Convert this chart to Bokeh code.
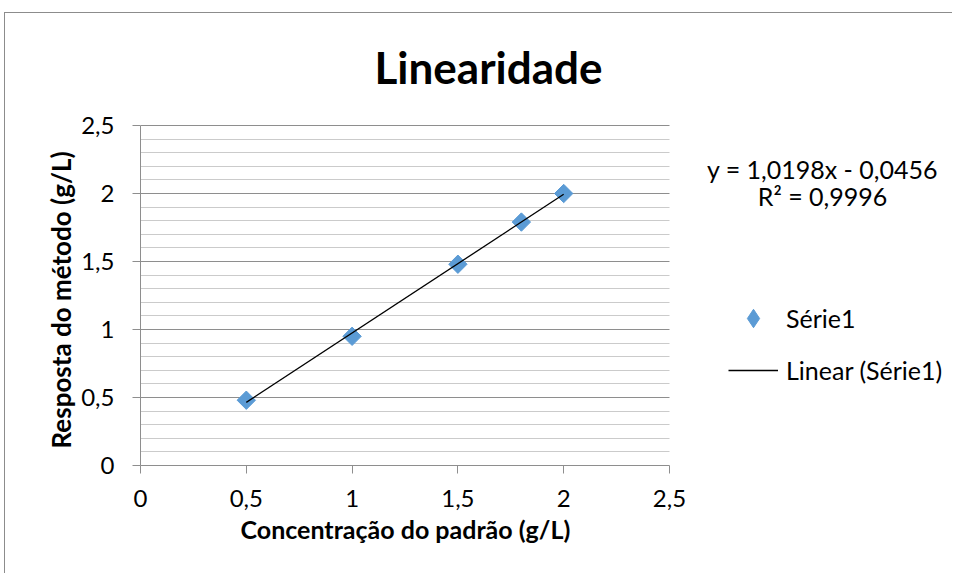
import numpy as np
from bokeh.plotting import figure
from bokeh.models import (FixedTicker, Legend, LegendItem, Label, Title,
                          ColumnDataSource, Range1d)
from bokeh.embed import file_html
from bokeh.resources import INLINE

# ---- data ----
x_conc = [0.5, 1.0, 1.5, 1.8, 2.0]
y_resp = [0.48, 0.95, 1.48, 1.79, 2.00]

trend_slope = 1.0198
trend_intercept = -0.0456
trend_r2 = 0.9996

x_tick_values = [0, 0.5, 1.0, 1.5, 2.0, 2.5]
x_tick_labels = ["0", "0,5", "1", "1,5", "2", "2,5"]
y_tick_values = [0, 0.5, 1.0, 1.5, 2.0, 2.5]
y_tick_labels = ["0", "0,5", "1", "1,5", "2", "2,5"]
y_minor_ticks = [round(i * 0.1, 1) for i in range(26) if i % 5 != 0]

title_text = "Linearidade"
x_title = "Concentração do padrão (g/L)"
y_title = "Resposta do método (g/L)"
series_name = "Série1"
trend_name = "Linear (Série1)"

FONT = "Lato"
BLUE = "#5B9BD5"
MAJOR = "#8E8E8E"
MINOR = "#CBCBCB"

# ---- layout (pixels) ----
AXIS_MAX = 2.5
PLOT_W, PLOT_H = 529, 340          # visible plot area
FRAME_W, FRAME_H = 812, 452        # frame also holds title / legend area
x_end = AXIS_MAX * FRAME_W / PLOT_W
y_end = AXIS_MAX * FRAME_H / PLOT_H

p = figure(frame_width=FRAME_W, frame_height=FRAME_H,
           x_range=(0, x_end), y_range=(0, y_end),
           min_border_left=135, min_border_top=0,
           min_border_right=0, min_border_bottom=108,
           output_backend="svg", toolbar_location=None)
p.outline_line_color = None
p.background_fill_color = "white"
p.border_fill_color = "white"
p.styles = {"border-left": "1px solid #8C8C8C", "border-top": "1px solid #8C8C8C",
            "margin-left": "4px", "margin-top": "12px"}
# range used only by the legend key renderer (keeps it out of view)
p.extra_y_ranges = {"legend_key": Range1d(start=100, end=200)}

# axes
xt = FixedTicker(ticks=x_tick_values)
yt = FixedTicker(ticks=y_tick_values, minor_ticks=y_minor_ticks)
p.xaxis.ticker = xt
p.yaxis.ticker = yt
p.xaxis.bounds = (0, AXIS_MAX)
p.yaxis.bounds = (0, AXIS_MAX)
p.xaxis.major_label_overrides = {v: l for v, l in zip(x_tick_values, x_tick_labels)}
p.yaxis.major_label_overrides = {v: l for v, l in zip(y_tick_values, y_tick_labels)}

for ax in (p.xaxis[0], p.yaxis[0]):
    ax.axis_line_color = MAJOR
    ax.major_tick_line_color = MAJOR
    ax.major_tick_out = 8
    ax.major_tick_in = 0
    ax.minor_tick_line_color = None
    ax.major_label_text_font = FONT
    ax.major_label_text_font_size = "24px"
    ax.major_label_text_color = "black"

p.xaxis.major_label_standoff = 16
p.yaxis.major_label_standoff = 18

# axis titles, centred on the visible plot area
p.add_layout(Title(text=y_title, align="left", offset=17, standoff=4,
                   text_font=FONT, text_font_size="26px", text_font_style="bold",
                   text_color="black"), "left")
p.add_layout(Title(text=x_title, align="left", offset=100, standoff=4,
                   text_font=FONT, text_font_size="25px", text_font_style="bold",
                   text_color="black"), "below")

p.xgrid.visible = False
p.ygrid.ticker = yt
p.ygrid.bounds = (0, AXIS_MAX)
p.ygrid.cross_bounds = (0, AXIS_MAX)
p.ygrid.grid_line_color = MAJOR
p.ygrid.minor_grid_line_color = MINOR

src = ColumnDataSource(data=dict(x=x_conc, y=y_resp))

# trend line
tx = [min(x_conc), max(x_conc)]
ty = [trend_slope * v + trend_intercept for v in tx]
line_r = p.line(tx, ty, line_color="black", line_width=1.3)

# points
pts_r = p.scatter("x", "y", source=src, marker="square", angle=np.pi / 4, size=13,
                  fill_color=BLUE, line_color=BLUE)
# legend key for the points (same source, mapped to an off-screen range)
key_r = p.scatter("x", "y", source=src, y_range_name="legend_key",
                  marker="diamond", size=18, fill_color=BLUE, line_color=BLUE)
p.renderers = [pts_r, line_r, key_r]

# legend (frame-relative pixels)
legend = Legend(items=[LegendItem(label=series_name, renderers=[key_r]),
                       LegendItem(label=trend_name, renderers=[line_r])],
                location=(588, 72), orientation="vertical",
                glyph_width=50, glyph_height=46, label_height=30,
                spacing=6, label_standoff=8, padding=0, margin=0,
                border_line_color=None, background_fill_alpha=0,
                label_text_font=FONT, label_text_font_size="25px",
                label_text_color="black")
p.add_layout(legend, "center")

# title
p.add_layout(Label(x=348, y=399, x_units="screen", y_units="screen",
                   text=title_text, text_font=FONT, text_font_size="44px",
                   text_font_style="bold", text_align="center",
                   text_baseline="middle", text_color="black"))

# trendline equation
eq1 = "y = {:.4f}x - {:.4f}".format(trend_slope, abs(trend_intercept)).replace(".", ",")
eq2 = "R² = {:.4f}".format(trend_r2).replace(".", ",")
p.add_layout(Label(x=682, y=297, x_units="screen", y_units="screen", text=eq1,
                   text_font=FONT, text_font_size="25px", text_align="center",
                   text_baseline="middle", text_color="black"))
p.add_layout(Label(x=682, y=270, x_units="screen", y_units="screen", text=eq2,
                   text_font=FONT, text_font_size="25px", text_align="center",
                   text_baseline="middle", text_color="black"))

open("out.html", "w").write(file_html(p, INLINE))
